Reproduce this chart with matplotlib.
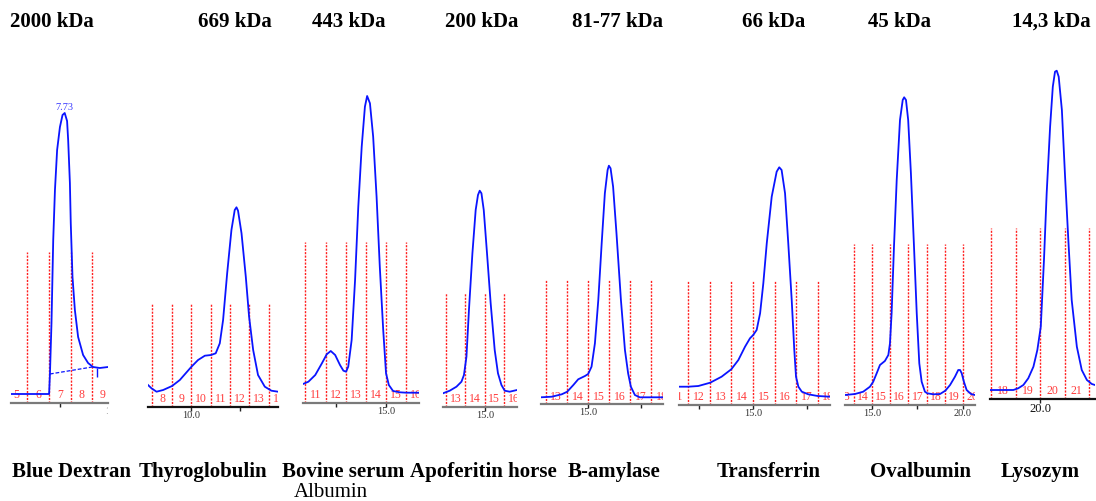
import matplotlib
matplotlib.use("Agg")
import matplotlib.pyplot as plt
from matplotlib.transforms import Bbox, TransformedBbox

W, H = 1096, 501
SERIF = "Liberation Serif"

# ---- molecular weight standards ----
kda_labels = ["2000 kDa", "669 kDa", "443 kDa", "200 kDa",
              "81-77 kDa", "66 kDa", "45 kDa", "14,3 kDa"]
protein_names = ["Blue Dextran", "Thyroglobulin", "Bovine serum", "Apoferitin horse",
                 "B-amylase", "Transferrin", "Ovalbumin", "Lysozym"]
protein_sub = ["", "", "Albumin", "", "", "", "", ""]

# ---- elution traces: volume (ml) / absorbance (mAU) ----
blue_dextran_ml = [5.25, 7.00, 7.01, 7.05, 7.12, 7.20, 7.28, 7.38, 7.51, 7.63, 7.73,
                   7.84, 7.89, 7.97, 8.01, 8.09, 8.20, 8.35, 8.58, 8.81, 9.04, 9.35, 9.73]
blue_dextran_au = [9, 9, 9, 30, 80, 163, 213, 253, 276, 288, 290,
                   282, 263, 220, 180, 126, 93, 66, 48, 40, 36, 35, 36]
blue_dextran_peak = 7.73
blue_dextran_base_ml = [7.05, 9.0]
blue_dextran_base_au = [29, 36]

thyro_ml = [7.77, 7.95, 8.21, 8.55, 9.01, 9.41, 10.01, 10.35, 10.70, 11.02, 11.26,
            11.47, 11.64, 11.85, 12.07, 12.24, 12.33, 12.41, 12.59, 12.81, 12.98,
            13.19, 13.44, 13.79, 14.13, 14.47]
thyro_au = [22, 18.7, 15.3, 17, 21, 27, 40.3, 47, 51.3, 52, 53.7,
            63.7, 87, 133.7, 177, 197, 199.7, 196.3, 173.7, 130.3, 90.3,
            57, 32, 20.3, 16.3, 15.3]

bsa_ml = [10.88, 11.15, 11.49, 11.82, 12.06, 12.26, 12.48, 12.72, 12.89, 13.02, 13.13,
          13.30, 13.47, 13.63, 13.80, 13.96, 14.07, 14.21, 14.37, 14.54, 14.70, 14.87,
          15.01, 15.15, 15.36, 15.69, 16.02, 16.65]
bsa_au = [19, 21.3, 28, 39.7, 48.7, 52, 48, 38, 32.3, 31.3, 36.3,
          63, 123, 196.3, 256.3, 296.3, 307, 299.7, 266.3, 206.3, 136.3, 73,
          29.7, 18, 12, 10.7, 10.3, 10.3]

apo_ml = [12.83, 13.18, 13.53, 13.79, 13.92, 14.05, 14.18, 14.36, 14.53, 14.65, 14.74,
          14.83, 14.95, 15.12, 15.31, 15.52, 15.69, 15.87, 16.04, 16.30, 16.68]
apo_au = [13.7, 16.3, 20.3, 25.3, 32, 50.3, 97, 153.7, 197, 212, 216.3,
          213.7, 197, 153.7, 103.7, 57, 33.7, 22, 16.3, 15.3, 17]

amylase_ml = [12.78, 13.29, 13.76, 14.02, 14.31, 14.54, 14.86, 15.01, 15.17, 15.33, 15.49,
              15.65, 15.80, 15.93, 15.99, 16.07, 16.19, 16.35, 16.56, 16.75, 16.90, 17.03,
              17.22, 17.45, 18.55]
amylase_au = [6.7, 7.3, 9.7, 12.3, 19, 24.7, 28, 30, 37.3, 60.7, 104,
              160.7, 210.7, 234, 238.3, 235.7, 217.3, 170.7, 104, 54, 30.7, 17.3,
              9, 6.7, 6.7]

transferrin_ml = [11.56, 11.99, 12.46, 13.01, 13.54, 13.99, 14.32, 14.63, 14.86, 15.01,
                  15.17, 15.33, 15.48, 15.64, 15.87, 16.10, 16.22, 16.33, 16.49, 16.64,
                  16.80, 16.92, 17.00, 17.11, 17.27, 17.57, 18.01, 18.58]
transferrin_au = [18.3, 18.3, 19, 22.3, 28.3, 35.7, 45, 58.3, 66.7, 70,
                  75, 91.7, 121.7, 161.7, 208.3, 233.3, 237.7, 235, 211.7, 161.7,
                  105, 55, 28.3, 18.3, 13.3, 10.7, 9, 8.3]

ovalbumin_ml = [13.52, 14.07, 14.52, 14.89, 15.07, 15.26, 15.44, 15.71, 15.90, 15.99,
                16.08, 16.21, 16.36, 16.54, 16.69, 16.77, 16.87, 16.99, 17.14, 17.31,
                17.46, 17.60, 17.73, 17.91, 18.04, 18.37, 18.74, 19.03, 19.29, 19.56,
                19.74, 19.84, 19.93, 20.05, 20.20, 20.44, 20.66]
ovalbumin_au = [10, 11, 13.3, 18.3, 23.3, 31.7, 40, 44, 50, 61.7,
                91.7, 158.3, 225, 285, 305, 307.7, 305, 285, 231.7, 158.3,
                91.7, 41.7, 23.3, 13.3, 11.7, 10.7, 11, 14.3, 20, 28.3,
                35, 35, 31.7, 23.3, 15, 11, 10]

lysozym_ml = [17.96, 18.91, 19.11, 19.32, 19.52, 19.73, 19.89, 20.03, 20.16, 20.27,
              20.41, 20.52, 20.61, 20.68, 20.76, 20.89, 21.02, 21.16, 21.29, 21.50,
              21.70, 21.91, 22.11, 22.24]
lysozym_au = [9, 9, 10.7, 14, 20.7, 32.3, 49, 72.3, 139, 205.7,
              272.3, 312.3, 327.3, 328.3, 322.3, 289, 222.3, 155.7, 99, 52.3,
              29, 19, 15, 14]

traces = [(blue_dextran_ml, blue_dextran_au), (thyro_ml, thyro_au), (bsa_ml, bsa_au),
          (apo_ml, apo_au), (amylase_ml, amylase_au), (transferrin_ml, transferrin_au),
          (ovalbumin_ml, ovalbumin_au), (lysozym_ml, lysozym_au)]

# fraction boundaries (fraction n collected from n to n+1 ml)
fraction_lines = [[6, 7, 8, 9], [8, 9, 10, 11, 12, 13, 14], [11, 12, 13, 14, 15, 16],
                  [13, 14, 15, 16], [13, 14, 15, 16, 17, 18], [12, 13, 14, 15, 16, 17, 18],
                  [14, 15, 16, 17, 18, 19, 20], [18, 19, 20, 21, 22]]
fraction_numbers = [[5, 6, 7, 8, 9], [8, 9, 10, 11, 12, 13, 14], [11, 12, 13, 14, 15, 16],
                    [13, 14, 15, 16], [13, 14, 15, 16, 17, 18], [11, 12, 13, 14, 15, 16, 17, 18],
                    [13, 14, 15, 16, 17, 18, 19, 20], [18, 19, 20, 21]]
tick_labels = [[10.0], [10.0], [15.0], [15.0], [15.0], [15.0], [15.0, 20.0], [20.0]]

# panel frames: left px, right px, baseline px, volume window, marker height
frames = [(11, 108, 403), (148, 278, 407), (303, 419, 403), (443, 517, 407),
          (541, 663, 404), (679, 830, 405), (845, 975, 405), (990, 1095, 399)]
windows = [(5.25, 9.73), (7.77, 14.47), (10.88, 16.65), (12.83, 16.68),
           (12.78, 18.55), (11.56, 18.58), (13.52, 20.66), (17.96, 22.24)]
marker_height = [151, 104, 161, 114, 124, 125, 161, 171]
title_left = [10, 198, 312, 445, 572, 742, 868, 1012]
name_left = [12, 139, 282, 410, 568, 717, 870, 1001]

fig = plt.figure(figsize=(W / 100, H / 100), dpi=100)
TOP = 45

for i in range(8):
    x0, x1, base = frames[i]
    ax = fig.add_axes([x0 / W, (H - base) / H, (x1 - x0) / W, (base - TOP) / H])
    ax.set_xlim(*windows[i])
    ax.set_ylim(0, base - TOP)
    for s in ("top", "right", "left"):
        ax.spines[s].set_visible(False)
    ax.spines["bottom"].set_color("#111111" if i in (1, 7) else "#7a7a7a")
    ax.spines["bottom"].set_linewidth(1.6)
    ax.set_yticks([])
    lo, hi = windows[i]
    majors = [v for v in (5.0, 10.0, 15.0, 20.0) if lo <= v <= hi]
    minors = [v for v in (7.5, 12.5, 17.5, 22.5) if lo <= v <= hi]
    ax.set_xticks(majors)
    ax.set_xticks(minors, minor=True)
    ax.tick_params(axis="x", which="both", direction="out", length=3, width=1,
                   color="#222222", labelbottom=False)

    clip = TransformedBbox(Bbox([[0, -0.3], [1, 1]]), ax.transAxes)

    # fraction markers
    ax.vlines(fraction_lines[i], 0, marker_height[i], colors="#ff2020",
              linestyles=(0, (1.5, 1)), linewidth=1.0, zorder=1)
    for n in fraction_numbers[i]:
        t = ax.text(n + 0.5, 1.5, str(n), ha="center", va="bottom", color="#ff3c3c",
                    fontsize=8.5, family=SERIF, clip_on=True)
        t.set_clip_box(clip)

    # volume tick labels
    for v in tick_labels[i]:
        t = ax.text(v, -4, f"{v:.1f}", ha="center", va="top",
                    color="#111111" if i == 7 else "#333333",
                    fontsize=9 if i == 7 else 7.5, family=SERIF, clip_on=True)
        t.set_clip_box(clip)

    # elution trace
    ml, au = traces[i]
    ax.plot(ml, au, color="#0a14ff", linewidth=1.3, zorder=3, solid_joinstyle="round")

    if i == 0:
        ax.plot(blue_dextran_base_ml, blue_dextran_base_au, color="#0a14ff",
                linewidth=0.9, linestyle=(0, (3, 1.5)), zorder=3)
        ax.vlines([9.21], 26, 35, colors="#0a14ff", linewidth=1.0, zorder=3)
        ax.text(blue_dextran_peak, 291, f"{blue_dextran_peak:.2f}", ha="center",
                va="bottom", color="#3a3aff", fontsize=7.5, family=SERIF)

    # standard labels
    fig.text(title_left[i] / W, 1 - 27 / H, kda_labels[i], ha="left", va="baseline",
             fontsize=15, fontweight="bold", family=SERIF)
    fig.text(name_left[i] / W, 1 - 477 / H, protein_names[i], ha="left", va="baseline",
             fontsize=15, fontweight="bold", family=SERIF)
    if protein_sub[i]:
        fig.text((name_left[i] + 12) / W, 1 - 497 / H, protein_sub[i], ha="left",
                 va="baseline", fontsize=15, family=SERIF)

fig.savefig("out.png", dpi=100)
